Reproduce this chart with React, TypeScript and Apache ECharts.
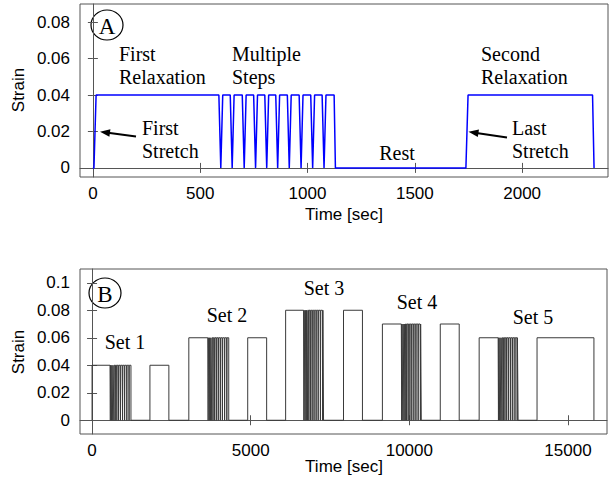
import { useEffect, useRef } from "react";
import * as echarts from "echarts";

// ---- Panel A: single protocol run (strain vs time) ----
const aTimeTicks = [0, 500, 1000, 1500, 2000];
const aStrainTicks = [0, 0.02, 0.04, 0.06, 0.08];
const aLevel = 0.04;
// first stretch: leaves zero, reaches plateau
const aFirstStretch = [5, 15];
// bottoms of the multiple-step dips
const aStepBottoms = [596, 649, 705, 758, 810, 861, 915, 970, 1024, 1077];
// release to rest
const aRelease = [1124, 1130];
// last stretch: leaves zero, reaches plateau
const aLastStretch = [1738, 1748];
// final unloading
const aUnload = [2328, 2335];

// ---- Panel B: five sets at increasing/decreasing strain ----
const bTimeTicks = [0, 5000, 10000, 15000];
const bStrainTicks = [0, 0.02, 0.04, 0.06, 0.08, 0.1];
const setLabels = ["Set 1", "Set 2", "Set 3", "Set 4", "Set 5"];
const setLevels = [0.04, 0.06, 0.08, 0.07, 0.06];
const setRise = [0, 3050, 6101, 9151, 12201];
const setStepsStart = [566, 3648, 6667, 9748, 12799];
const setStepsEnd = [1226, 4308, 7296, 10377, 13428];
const setRelaxStart = [1824, 4906, 7925, 10975, 14025];
const setRelaxEnd = [2421, 5503, 8522, 11572, 15818];
// dip bottoms, seconds after the step phase begins
const bStepOffsets = [10, 48, 86, 124, 165, 215, 270, 330, 395, 460, 530, 600];

function dip(tBottom: number, level: number, half: number): number[][] {
  return [
    [tBottom - half, level],
    [tBottom, 0],
    [tBottom + half, level],
  ];
}

function buildA(): number[][] {
  const pts: number[][] = [[0, 0], [aFirstStretch[0], 0], [aFirstStretch[1], aLevel]];
  aStepBottoms.forEach((t) => pts.push(...dip(t, aLevel, 9)));
  pts.push([aRelease[0], aLevel], [aRelease[1], 0]);
  pts.push([aLastStretch[0], 0], [aLastStretch[1], aLevel]);
  pts.push([aUnload[0], aLevel], [aUnload[1], 0]);
  return pts;
}

function buildB(): number[][] {
  const pts: number[][] = [];
  setLevels.forEach((lv, i) => {
    pts.push([setRise[i], 0], [setRise[i], lv]);
    pts.push([setStepsStart[i], lv]);
    bStepOffsets.forEach((o) => {
      const t = setStepsStart[i] + o;
      if (t + 8 < setStepsEnd[i]) pts.push(...dip(t, lv, 8));
    });
    pts.push([setStepsEnd[i], lv], [setStepsEnd[i], 0]);
    pts.push([setRelaxStart[i], 0], [setRelaxStart[i], lv]);
    pts.push([setRelaxEnd[i], lv], [setRelaxEnd[i], 0]);
  });
  return pts;
}

const AXIS = "#555";
const SANS = "Liberation Sans";
const SERIF = "Liberation Serif";

function fmtStrain(v: number): string {
  return v === 0 ? "0" : String(+v.toFixed(2));
}

function xAxes(grid: number, min: number, max: number, ticks: number[]) {
  const tick = { show: true, inside: true, length: 5, customValues: ticks, lineStyle: { color: AXIS } };
  return [
    {
      gridIndex: grid,
      type: "value",
      min,
      max,
      position: "bottom",
      axisLine: { show: true, lineStyle: { color: AXIS } },
      axisTick: tick,
      axisLabel: {
        customValues: ticks,
        margin: 8,
        fontFamily: SANS,
        fontSize: 17,
        color: "#000",
        formatter: (v: number) => String(v),
      },
      splitLine: { show: false },
    },
    {
      gridIndex: grid,
      type: "value",
      min,
      max,
      position: "top",
      axisLine: { show: false },
      axisTick: tick,
      axisLabel: { show: false },
      splitLine: { show: false },
    },
  ];
}

function yAxes(grid: number, min: number, max: number, ticks: number[]) {
  const tick = { show: true, inside: true, length: 5, customValues: ticks, lineStyle: { color: AXIS } };
  return [
    {
      gridIndex: grid,
      type: "value",
      min,
      max,
      position: "left",
      axisLine: { show: true, lineStyle: { color: AXIS } },
      axisTick: tick,
      axisLabel: {
        customValues: ticks,
        margin: 10,
        fontFamily: SANS,
        fontSize: 17,
        color: "#000",
        formatter: fmtStrain,
      },
      splitLine: { show: false },
    },
    {
      gridIndex: grid,
      type: "value",
      min,
      max,
      position: "right",
      axisLine: { show: false },
      axisTick: tick,
      axisLabel: { show: false },
      splitLine: { show: false },
    },
  ];
}

function serifText(x: number, y: number, text: string, align: "left" | "center" = "left", size = 20) {
  return {
    type: "text",
    x,
    y,
    style: {
      text,
      fontFamily: SERIF,
      fontSize: size,
      fill: "#000",
      align,
      verticalAlign: "middle",
    },
  };
}

function axisTitle(x: number, y: number, text: string, vertical: boolean) {
  return {
    type: "text",
    x,
    y,
    rotation: vertical ? Math.PI / 2 : 0,
    style: {
      text,
      fontFamily: SANS,
      fontSize: 17,
      fill: "#000",
      align: "center",
      verticalAlign: "middle",
    },
  };
}

function arrow(tx: number, ty: number, hx: number, hy: number) {
  const dx = hx - tx;
  const dy = hy - ty;
  const len = Math.hypot(dx, dy);
  const ux = dx / len;
  const uy = dy / len;
  const headLen = 10;
  const headHalf = 3.8;
  const bx = hx - ux * headLen;
  const by = hy - uy * headLen;
  return [
    {
      type: "line",
      shape: { x1: tx, y1: ty, x2: bx + ux * 2, y2: by + uy * 2 },
      style: { stroke: "#000", lineWidth: 2 },
    },
    {
      type: "polygon",
      shape: {
        points: [
          [hx, hy],
          [bx - uy * headHalf, by + ux * headHalf],
          [bx + uy * headHalf, by - ux * headHalf],
        ],
      },
      style: { fill: "#000" },
    },
  ];
}

function badge(cx: number, cy: number, letter: string) {
  return [
    {
      type: "ellipse",
      shape: { cx, cy, rx: 16, ry: 15 },
      style: { fill: "none", stroke: "#000", lineWidth: 1.2 },
    },
    serifText(cx, cy + 1, letter, "center", 23),
  ];
}

export default function App() {
  const ref = useRef<HTMLDivElement>(null);

  useEffect(() => {
    if (!ref.current) return;
    const chart = echarts.init(ref.current, undefined, { renderer: "svg" });

    const setLabelPos = [
      [125, 342],
      [227, 315],
      [324, 288],
      [417, 302],
      [533, 317],
    ];

    const option = {
      animation: false,
      backgroundColor: "#fff",
      grid: [
        { left: 80, top: 4, width: 528, height: 173, show: true, borderColor: AXIS, borderWidth: 1 },
        { left: 80, top: 269, width: 527, height: 165, show: true, borderColor: AXIS, borderWidth: 1 },
      ],
      xAxis: [...xAxes(0, -60, 2400, aTimeTicks), ...xAxes(1, -380, 16230, bTimeTicks)],
      yAxis: [...yAxes(0, -0.005, 0.09, aStrainTicks), ...yAxes(1, -0.01, 0.11, bStrainTicks)],
      series: [
        {
          type: "line",
          xAxisIndex: 0,
          yAxisIndex: 0,
          data: buildA(),
          showSymbol: false,
          lineStyle: { color: "#0000ff", width: 1.5 },
          silent: true,
        },
        {
          type: "line",
          xAxisIndex: 2,
          yAxisIndex: 2,
          data: buildB(),
          showSymbol: false,
          lineStyle: { color: "#3a3a3a", width: 1 },
          silent: true,
        },
      ],
      graphic: [
        axisTitle(344, 214, "Time [sec]", false),
        axisTitle(18, 90, "Strain", true),
        axisTitle(344, 466, "Time [sec]", false),
        axisTitle(18, 352, "Strain", true),
        ...badge(107, 25, "A"),
        serifText(119, 54, "First"),
        serifText(119, 77, "Relaxation"),
        serifText(232, 54, "Multiple"),
        serifText(232, 77, "Steps"),
        serifText(142, 128, "First"),
        serifText(142, 151, "Stretch"),
        serifText(397, 153, "Rest", "center"),
        serifText(481, 54, "Second"),
        serifText(481, 77, "Relaxation"),
        serifText(512, 128, "Last"),
        serifText(512, 151, "Stretch"),
        ...arrow(136, 136.5, 100, 131.7),
        ...arrow(507, 137.5, 468.5, 131.7),
        ...badge(105, 293, "B"),
        ...setLabels.map((s, i) => serifText(setLabelPos[i][0], setLabelPos[i][1], s, "center")),
      ],
    };

    chart.setOption(option as any);
    return () => chart.dispose();
  }, []);

  return (
    <div
      ref={ref}
      style={{ position: "absolute", left: 0, top: 0, width: 610, height: 487, background: "#fff" }}
    />
  );
}
